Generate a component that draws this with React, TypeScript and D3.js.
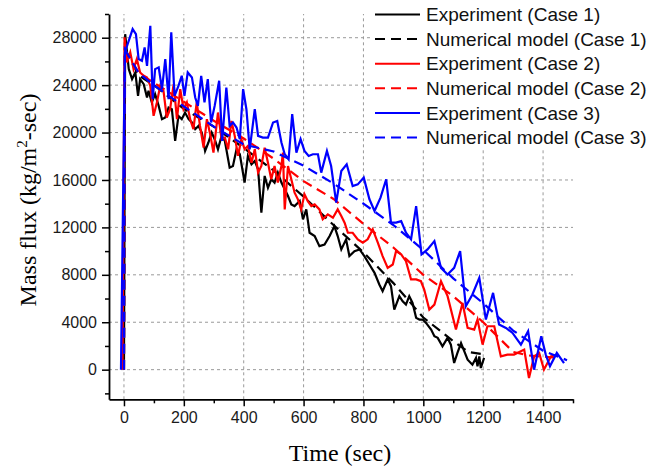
import React, { useEffect, useRef } from 'react';
import * as d3 from 'd3';

// [time (sec), mass flux (kg/m2-sec)]
const exp1 = [
  [0, 0], [4, 28300], [16, 25350], [27, 24510], [38, 25070], [47, 23100], [54, 24510], [66, 24085], [77, 22960],
  [82, 23520], [93, 22540], [104, 23240], [116, 22250], [127, 21130], [138, 21270], [149, 22110], [160, 21970],
  [171, 19290], [182, 21400], [193, 21130], [204, 21690], [216, 21130], [227, 20850], [238, 20280], [249, 20560],
  [260, 20000], [271, 18450], [282, 19160], [293, 20000], [303, 19440], [314, 18590], [326, 19720], [337, 19290],
  [353, 17040], [364, 17180], [376, 18590], [387, 18170], [403, 15780], [414, 18030], [426, 17320], [437, 17600],
  [448, 16900], [459, 13240], [470, 16340], [481, 15350], [492, 16060], [503, 15780], [514, 16620], [526, 15780],
  [537, 15210], [548, 14650], [559, 13940], [570, 13800], [587, 14220], [598, 12680], [609, 13520], [620, 11550],
  [637, 11270], [653, 10420], [670, 10560], [687, 11270], [703, 12110], [714, 11270], [726, 10140], [742, 10990],
  [753, 9580], [770, 10000], [787, 10140], [803, 9580], [820, 8870], [837, 8170], [853, 7180], [864, 6620],
  [881, 7610], [892, 7040], [903, 5070], [920, 6200], [931, 5770], [942, 5490], [953, 6200], [964, 5630],
  [976, 4370], [987, 4225], [998, 4225], [1009, 3945], [1026, 3380], [1037, 2820], [1048, 2680], [1064, 1970],
  [1081, 2680], [1092, 2110], [1103, 560], [1114, 1410], [1126, 2250], [1137, 1550], [1148, 845], [1164, 420],
  [1176, 990], [1181, 280], [1187, 1120], [1192, 140], [1203, 990],
];

const num1 = [
  [0, 0], [3, 27000], [50, 24800], [100, 24000], [200, 22000], [300, 20500], [400, 18700], [500, 16800],
  [600, 14600], [700, 12200], [800, 9900], [900, 7300], [1000, 4400], [1100, 2400], [1150, 1500], [1200, 1300],
];

const exp2 = [
  [-5, 0], [2, 28030], [10, 25920], [21, 26760], [32, 25350], [43, 26200], [54, 25070], [66, 24790], [77, 24650],
  [88, 23940], [99, 21410], [110, 22540], [121, 23940], [132, 23520], [143, 21270], [154, 21970], [166, 24085],
  [177, 21130], [188, 23660], [199, 21970], [210, 22540], [221, 21130], [232, 20280], [243, 22540], [254, 20560],
  [266, 18730], [277, 21130], [288, 19860], [299, 18310], [314, 21690], [326, 19440], [337, 19580], [348, 18590],
  [359, 20980], [370, 19720], [381, 18030], [392, 19440], [403, 18590], [414, 18870], [426, 17460], [437, 18590],
  [448, 16620], [459, 17180], [470, 18730], [481, 17460], [492, 16060], [503, 17180], [514, 15780], [526, 17180],
  [531, 18310], [537, 13520], [548, 17180], [559, 16060], [570, 14930], [581, 14370], [592, 13520], [603, 14790],
  [614, 14220], [626, 13800], [637, 13940], [653, 13520], [664, 12680], [681, 13100], [698, 12820], [714, 13520],
  [726, 12960], [737, 12400], [748, 11550], [764, 11550], [781, 10990], [798, 10710], [814, 10990], [831, 11830],
  [848, 10710], [864, 9580], [881, 8590], [898, 8870], [909, 10000], [926, 9720], [942, 9150], [959, 7610],
  [976, 7610], [992, 7460], [1003, 6760], [1020, 5070], [1037, 5490], [1059, 7460], [1081, 6200], [1109, 3380],
  [1131, 5630], [1148, 3520], [1170, 3380], [1181, 4225], [1198, 2110], [1214, 3660], [1237, 3660], [1259, 1120],
  [1281, 1270], [1303, 1270], [1326, 1550], [1337, 1690], [1353, -700], [1370, 1120], [1387, 1410], [1403, 0],
  [1426, 1120], [1448, 1270],
];

const num2 = [
  [0, 0], [3, 27000], [50, 25000], [100, 24200], [200, 22600], [300, 21000], [400, 19500], [500, 17800],
  [600, 15900], [700, 14400], [800, 12300], [900, 10300], [1000, 8000], [1100, 6200], [1200, 4000], [1300, 1500],
  [1350, 1200], [1450, 1000],
];

const exp3 = [
  [-10, 0], [3, 26760], [29, 28730], [40, 28310], [49, 26200], [60, 26050], [69, 27180], [77, 25630], [88, 29010],
  [96, 22820], [104, 25350], [116, 25500], [127, 23660], [138, 26200], [149, 22820], [158, 28450], [169, 23100],
  [182, 23940], [193, 24790], [202, 23100], [213, 25070], [227, 24650], [238, 22960], [247, 22250], [258, 24790],
  [269, 22540], [280, 24510], [291, 20850], [303, 22250], [318, 24370], [328, 19290], [342, 23800], [353, 20560],
  [364, 20850], [376, 20420], [387, 19440], [398, 23660], [409, 21970], [420, 18590], [437, 21970], [448, 19720],
  [464, 19580], [481, 19580], [498, 20850], [512, 20980], [526, 19160], [537, 18170], [550, 17750], [562, 21550],
  [576, 18310], [590, 19440], [603, 18450], [617, 18030], [631, 18170], [648, 18170], [659, 16620], [678, 18450],
  [692, 17180], [709, 14090], [726, 16760], [744, 17320], [764, 15490], [781, 15630], [801, 16200], [820, 14370],
  [837, 13380], [857, 14510], [876, 16060], [892, 12400], [909, 12400], [926, 12530], [942, 11550], [959, 10990],
  [976, 13800], [994, 9720], [1014, 10140], [1037, 10840], [1059, 8590], [1081, 8030], [1103, 8590], [1123, 10000],
  [1142, 5350], [1164, 6340], [1187, 7750], [1209, 4225], [1233, 6480], [1253, 3800], [1276, 3520], [1298, 3100],
  [1326, 2110], [1350, 3240], [1370, 0], [1394, 2820], [1409, 1270], [1423, 280], [1446, 1410], [1470, 560],
];

const num3 = [
  [0, 0], [3, 27000], [50, 25000], [100, 24000], [200, 22200], [300, 20500], [400, 19000], [500, 18400],
  [600, 17200], [700, 15700], [800, 14000], [900, 12200], [1000, 10100], [1100, 7700], [1200, 5600], [1300, 3300],
  [1400, 1600], [1480, 800],
];

const xMajor = [0, 200, 400, 600, 800, 1000, 1200, 1400];
const xMinor = [100, 300, 500, 700, 900, 1100, 1300, 1500];
const yMajor = [0, 4000, 8000, 12000, 16000, 20000, 24000, 28000];
const yMinor = [-2000, 2000, 6000, 10000, 14000, 18000, 22000, 26000, 30000];

const seriesNames = [
  'Experiment (Case 1)', 'Numerical model (Case 1)',
  'Experiment (Case 2)', 'Numerical model (Case 2)',
  'Experiment (Case 3)', 'Numerical model (Case 3)',
];

const App = () => {
  const svgRef = useRef(null);
  const width = 667;
  const height = 470;

  useEffect(() => {
    const svg = d3.select(svgRef.current);
    svg.selectAll('*').remove();

    const x = d3.scaleLinear().domain([-50, 1500]).range([109, 573]);
    const y = d3.scaleLinear().domain([-2500, 30000]).range([399.3, 14]);
    const font = 'Arial, "Liberation Sans", sans-serif';

    // grid
    const grid = svg.append('g')
      .attr('stroke', '#9a9a9a')
      .attr('stroke-width', 1)
      .attr('stroke-dasharray', '3,3');
    xMajor.forEach((t) => {
      grid.append('line').attr('x1', x(t)).attr('x2', x(t)).attr('y1', y(-2500)).attr('y2', y(30000));
    });
    yMajor.forEach((v) => {
      grid.append('line').attr('x1', x(-50)).attr('x2', x(1500)).attr('y1', y(v)).attr('y2', y(v));
    });

    // lines
    const line = d3.line()
      .x((d) => x(d[0]))
      .y((d) => y(d[1]));

    const series = [
      { data: exp1, color: '#000000', dash: null },
      { data: num1, color: '#000000', dash: '10,6' },
      { data: exp2, color: '#ff0000', dash: null },
      { data: num2, color: '#ff0000', dash: '10,6' },
      { data: exp3, color: '#0000ff', dash: null },
      { data: num3, color: '#0000ff', dash: '10,6' },
    ];

    series.forEach((s) => {
      svg.append('path')
        .datum(s.data)
        .attr('fill', 'none')
        .attr('stroke', s.color)
        .attr('stroke-width', 2.2)
        .attr('stroke-linejoin', 'miter')
        .attr('stroke-dasharray', s.dash)
        .attr('d', line);
    });

    // axes
    const xAxis = svg.append('g').attr('transform', `translate(0, ${y(-2500)})`)
      .call(d3.axisBottom(x).tickValues(xMajor).tickSize(7).tickSizeOuter(0).tickPadding(5).tickFormat(d3.format('d')));
    svg.append('g').attr('transform', `translate(0, ${y(-2500)})`)
      .call(d3.axisBottom(x).tickValues(xMinor).tickSize(4).tickSizeOuter(0).tickFormat(() => ''))
      .select('.domain').remove();
    const yAxis = svg.append('g').attr('transform', `translate(${x(-50)}, 0)`)
      .call(d3.axisLeft(y).tickValues(yMajor).tickSize(7).tickSizeOuter(0).tickPadding(5).tickFormat(d3.format('d')));
    svg.append('g').attr('transform', `translate(${x(-50)}, 0)`)
      .call(d3.axisLeft(y).tickValues(yMinor).tickSize(4).tickSizeOuter(0).tickFormat(() => ''))
      .select('.domain').remove();

    svg.selectAll('.domain').attr('stroke', '#000').attr('stroke-width', 1.8);
    svg.selectAll('.tick line').attr('stroke', '#000').attr('stroke-width', 1.5);
    [xAxis, yAxis].forEach((a) => {
      a.selectAll('text')
        .attr('font-family', font)
        .attr('font-size', 16)
        .attr('fill', '#1a1a1a');
    });

    // axis titles
    svg.append('text')
      .attr('x', 340)
      .attr('y', 461)
      .attr('text-anchor', 'middle')
      .attr('font-family', '"Liberation Serif", "Times New Roman", serif')
      .attr('font-size', 24)
      .text('Time (sec)');

    const yl = svg.append('text')
      .attr('transform', 'translate(36, 200) rotate(-90)')
      .attr('text-anchor', 'middle')
      .attr('font-family', '"Liberation Serif", "Times New Roman", serif')
      .attr('font-size', 24);
    yl.append('tspan').text('Mass flux (kg/m');
    yl.append('tspan').attr('font-size', 15).attr('dy', -9).text('2');
    yl.append('tspan').attr('dy', 9).text('-sec)');

    // legend
    const legend = svg.append('g');
    legend.append('rect')
      .attr('x', 372).attr('y', 0).attr('width', 295).attr('height', 150)
      .attr('fill', '#fff');
    seriesNames.forEach((name, i) => {
      const ly = 14.5 + i * 24.6;
      legend.append('line')
        .attr('x1', 375).attr('x2', 420).attr('y1', ly).attr('y2', ly)
        .attr('stroke', series[i].color)
        .attr('stroke-width', 2)
        .attr('stroke-dasharray', series[i].dash);
      legend.append('text')
        .attr('x', 426).attr('y', ly)
        .attr('dy', '0.35em')
        .attr('font-family', font)
        .attr('font-size', 19)
        .attr('fill', '#111')
        .text(name);
    });
  }, []);

  return (
    <svg ref={svgRef} width={width} height={height}
      style={{ position: 'absolute', left: 0, top: 0, background: '#fff' }} />
  );
};

export default App;
